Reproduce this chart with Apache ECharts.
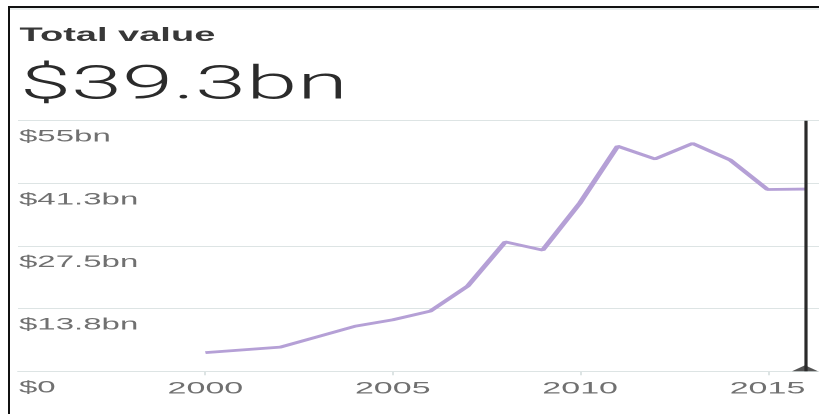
<!DOCTYPE html>
<html>
<head>
<meta charset="utf-8">
<script src="https://cdn.jsdelivr.net/npm/echarts@6/dist/echarts.min.js"></script>
<style>
  html, body { margin: 0; padding: 0; background: #fff; overflow: hidden; }
  #wrap { position: relative; width: 819px; height: 414px; overflow: hidden; }
  #chart { position: absolute; left: 0; top: 0; width: 409.5px; height: 414px; transform: scaleX(2); transform-origin: 0 0; }
  #frame { position: absolute; left: 8px; top: 6px; width: 830px; height: 430px; border-left: 2px solid #111; border-top: 2px solid #111; pointer-events: none; }
  #frameShade { position: absolute; left: 10px; top: 8px; width: 830px; height: 2px; background: #e9eeee; }
</style>
</head>
<body>
<div id="wrap">
  <div id="chart"></div>
  <div id="frameShade"></div>
  <div id="frame"></div>
</div>
<script>
// ---- data ----
var titleText = 'Total value';
var headlineText = '$39.3bn';
var years = [2000, 2001, 2002, 2003, 2004, 2005, 2006, 2007, 2008, 2009, 2010, 2011, 2012, 2013, 2014, 2015, 2016];
var values = [4.1, 4.7, 5.3, 7.6, 9.9, 11.3, 13.2, 18.7, 28.4, 26.6, 37.0, 49.4, 46.6, 50.0, 46.4, 39.9, 40.0];
var yTickValues = [0, 13.75, 27.5, 41.25, 55];
var yTickLabels = ['$0', '$13.8bn', '$27.5bn', '$41.3bn', '$55bn'];
var xTickYears = [2000, 2005, 2010, 2015];
var markerYear = 2016;

var chart = echarts.init(document.getElementById('chart'), null, { renderer: 'canvas', devicePixelRatio: 2 });

var lineData = years.map(function (y, i) { return [y, values[i]]; });

var option = {
  animation: false,
  backgroundColor: 'transparent',
  title: [
    {
      text: titleText,
      left: 9.8, top: 26.5, padding: 0,
      textStyle: { fontFamily: 'Liberation Sans', fontSize: 19, fontWeight: 'bold', color: '#383838' }
    },
    {
      text: headlineText,
      left: 10, top: 64, padding: 0,
      textStyle: { fontFamily: 'Roboto', fontSize: 46, fontWeight: 300, color: '#2b2b2b' }
    }
  ],
  grid: { left: 9, right: 0, top: 120.7, bottom: 42.7, containLabel: false },
  xAxis: {
    type: 'value',
    min: 1995, max: 2016.4, interval: 5,
    axisLine: { show: true, lineStyle: { color: '#dde4e4', width: 1 } },
    axisTick: { show: true, length: 4, customValues: xTickYears, lineStyle: { color: '#dde4e4' } },
    splitLine: { show: false },
    axisLabel: {
      margin: 9,
      customValues: xTickYears,
      fontFamily: 'Liberation Sans', fontSize: 17, color: '#707070',
      formatter: function (v) { return xTickYears.indexOf(v) >= 0 ? String(v) : ''; }
    }
  },
  yAxis: {
    type: 'value',
    min: 0, max: 55, interval: 13.75,
    axisLine: { show: false },
    axisTick: { show: false },
    splitLine: { show: true, lineStyle: { color: '#dde4e4', width: 1 } },
    axisLabel: {
      inside: true, margin: 0.5,
      verticalAlign: 'top', padding: [8, 0, 0, 0],
      fontFamily: 'Liberation Sans', fontSize: 16.5, color: '#707070',
      formatter: function (v) {
        for (var i = 0; i < yTickValues.length; i++) {
          if (Math.abs(yTickValues[i] - v) < 1e-6) return yTickLabels[i];
        }
        return '';
      }
    }
  },
  series: [
    {
      type: 'line',
      data: lineData,
      showSymbol: false,
      symbol: 'none',
      lineStyle: { color: '#b5a0d6', width: 2.8 },
      z: 2,
      markLine: {
        silent: true,
        symbol: 'none',
        label: { show: false },
        lineStyle: { color: '#2a2a2a', width: 1.6, type: 'solid' },
        data: [[{ coord: [markerYear, 0] }, { coord: [markerYear, 55] }]]
      }
    },
    {
      type: 'scatter',
      data: [[markerYear, 0]],
      symbol: 'triangle',
      symbolSize: [13, 6],
      symbolOffset: [0, -3],
      itemStyle: { color: '#2a2a2a' },
      silent: true,
      z: 3
    }
  ]
};
chart.setOption(option);
</script>
</body>
</html>
